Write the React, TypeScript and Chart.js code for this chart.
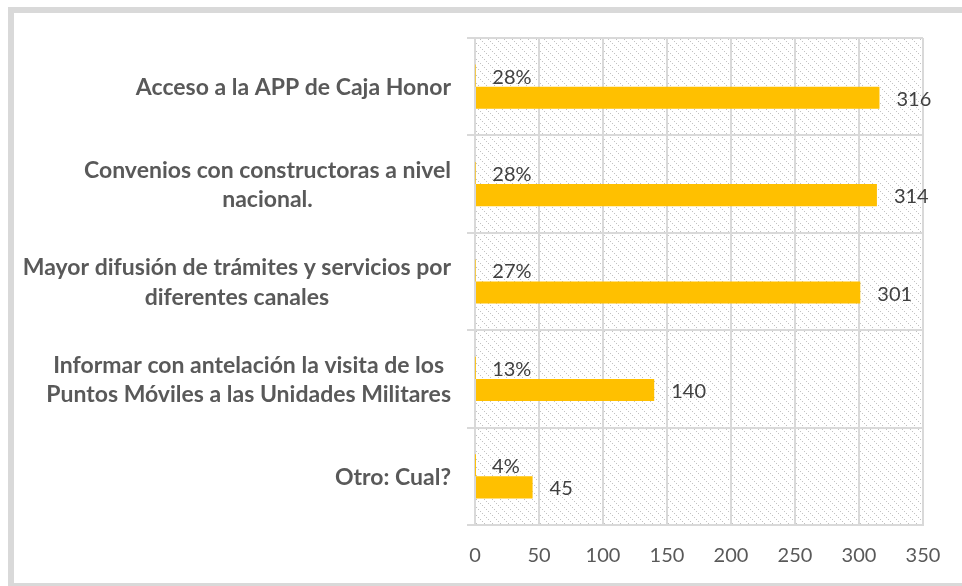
import React, { useEffect, useRef } from "react";
import { Chart, registerables } from "chart.js";

Chart.register(...registerables);

const categoryLines: string[][] = [
  ["Acceso a la APP de Caja Honor"],
  ["Convenios con constructoras a nivel", "nacional."],
  ["Mayor difusión de trámites y servicios por", "diferentes canales"],
  ["Informar con antelación la visita de los", "Puntos Móviles a las Unidades Militares"],
  ["Otro: Cual?"],
];
const counts: number[] = [316, 314, 301, 140, 45];
const percents: number[] = [28, 28, 27, 13, 4];
const xTicks: number[] = [0, 50, 100, 150, 200, 250, 300, 350];

const GRID = "#d9d9d9";
const BAR = "#FFC000";
const FONT = "Lato, 'Open Sans', sans-serif";

function makePattern(ctx: CanvasRenderingContext2D) {
  const pc = document.createElement("canvas");
  pc.width = 8;
  pc.height = 8;
  const p = pc.getContext("2d")!;
  p.fillStyle = "#ffffff";
  p.fillRect(0, 0, 8, 8);
  p.fillStyle = "#c2c2c2";
  for (let i = 0; i < 8; i += 2) p.fillRect(i, i, 1, 1);
  return ctx.createPattern(pc, "repeat");
}

const hatchPlugin = {
  id: "hatch",
  beforeDraw(chart: any) {
    const { ctx, chartArea } = chart;
    const pat = makePattern(ctx);
    if (!pat) return;
    ctx.save();
    ctx.fillStyle = pat;
    ctx.fillRect(chartArea.left, chartArea.top, chartArea.right - chartArea.left, chartArea.bottom - chartArea.top);
    ctx.restore();
  },
};

const labelPlugin = {
  id: "labels",
  afterDraw(chart: any) {
    const { ctx, chartArea } = chart;
    const yScale = chart.scales.y;
    ctx.save();
    // category labels
    ctx.font = `bold 23px ${FONT}`;
    ctx.fillStyle = "#595959";
    ctx.textAlign = "center";
    ctx.textBaseline = "middle";
    const lh = 29.5;
    categoryLines.forEach((lines, i) => {
      const cy = yScale.getPixelForValue(i);
      const maxW = Math.max(...lines.map((l) => ctx.measureText(l).width));
      const right = chartArea.left - 24;
      const cx = right - maxW / 2;
      const start = cy - ((lines.length - 1) * lh) / 2;
      lines.forEach((l, k) => ctx.fillText(l, cx, start + k * lh + 1));
    });
    // data labels
    ctx.font = `20px ${FONT}`;
    ctx.fillStyle = "#404040";
    ctx.textAlign = "left";
    const m0 = chart.getDatasetMeta(0);
    const m1 = chart.getDatasetMeta(1);
    m0.data.forEach((el: any, i: number) => {
      ctx.fillText(percents[i] + "%", el.x + 17, el.y + 1.5);
    });
    m1.data.forEach((el: any, i: number) => {
      ctx.fillText(String(counts[i]), el.x + 17, el.y + 1.5);
    });
    ctx.restore();
  },
};

export default function App() {
  const ref = useRef<HTMLCanvasElement>(null);
  useEffect(() => {
    if (!ref.current) return;
    const chart = new Chart(ref.current, {
      type: "bar",
      data: {
        labels: categoryLines,
        datasets: [
          {
            label: "Porcentaje",
            data: percents.map((p) => p / 100),
            backgroundColor: BAR,
            barPercentage: 1,
            categoryPercentage: 0.454,
          },
          {
            label: "Cantidad",
            data: counts,
            backgroundColor: BAR,
            barPercentage: 1,
            categoryPercentage: 0.454,
          },
        ],
      },
      options: {
        indexAxis: "y",
        animation: false,
        responsive: false,
        maintainAspectRatio: false,
        layout: { padding: { left: 453, top: 25, right: 39, bottom: -4 } },
        plugins: { legend: { display: false }, tooltip: { enabled: false } },
        scales: {
          x: {
            min: 0,
            max: 350,
            afterBuildTicks: (s: any) => {
              s.ticks = xTicks.map((v) => ({ value: v }));
            },
            grid: { color: GRID, lineWidth: 2, drawTicks: false },
            border: { color: GRID, width: 2 },
            ticks: {
              color: "#595959",
              font: { family: FONT, size: 20 },
              padding: 19,
            },
          },
          y: {
            offset: true,
            grid: { color: GRID, lineWidth: 2, offset: true, drawTicks: true, tickLength: 8 },
            border: { color: GRID, width: 2 },
            ticks: { display: false },
          },
        },
      },
      plugins: [hatchPlugin, labelPlugin],
    });
    return () => chart.destroy();
  }, []);

  return (
    <div
      style={{
        position: "fixed",
        left: 8,
        top: 7,
        width: 960,
        height: 582,
        boxSizing: "border-box",
        border: "6px solid #d9d9d9",
        background: "#ffffff",
      }}
    >
      <canvas ref={ref} width={948} height={570} style={{ display: "block", width: 948, height: 570 }} />
    </div>
  );
}
